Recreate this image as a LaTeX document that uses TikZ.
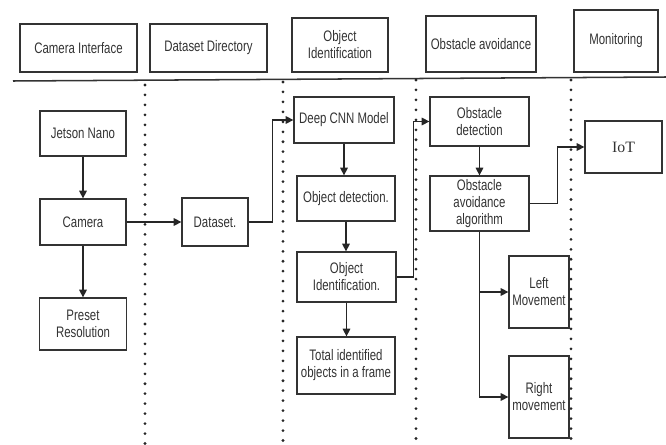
\documentclass[tikz,border=0pt]{standalone}
\usepackage{fontspec}
\setmainfont{Liberation Sans}[FakeStretch=0.75]
\newfontfamily\iotfont{Liberation Serif}
\usetikzlibrary{arrows.meta}

\tikzset{
  blk/.style={draw=black!80, line width=1.1pt, text=black!80, align=center, inner sep=1pt,
    font=\fontsize{13}{14.5}\selectfont},
  link/.style={draw=black!85, line width=1.1pt, -{Triangle[length=6.5pt,width=6.5pt]}},
  lane/.style={black!85, line width=2.6pt, line cap=round, dash pattern=on 0pt off 8.5pt}
}

\begin{document}
\begin{tikzpicture}[x=0.03cm,y=-0.03cm]
  \useasboundingbox (0,0) rectangle (666,445);

  % header row
  \node[blk, minimum width=3.51cm, minimum height=1.44cm] (hcam) at (78.5,48) {Camera Interface};
  \node[blk, minimum width=3.51cm, minimum height=1.44cm] (hdata) at (208.5,48) {Dataset Directory};
  \node[blk, minimum width=2.88cm, minimum height=1.62cm] (hobj) at (340,45) {Object\\Identification};
  \node[blk, minimum width=3.3cm, minimum height=1.68cm] (hobs) at (481,44) {Obstacle avoidance};
  \node[blk, minimum width=2.52cm, minimum height=1.86cm] (hmon) at (616,41) {Monitoring};
  \draw[black!80, line width=1.3pt] (13,81) -- (666,77);

  % lanes
  \foreach \x/\y in {145/85,283/82,416/80,571/80}
    \draw[lane] (\x,\y) -- (\x,445);

  % camera interface
  \node[blk, minimum width=2.58cm, minimum height=1.35cm] (jetson) at (83,133.5) {Jetson Nano};
  \node[blk, minimum width=2.58cm, minimum height=1.38cm] (camera) at (83,222) {Camera};
  \node[blk, minimum width=2.61cm, minimum height=1.56cm] (preset) at (83,324) {Preset\\Resolution};

  % dataset
  \node[blk, minimum width=1.98cm, minimum height=1.44cm] (dataset) at (215,222) {Dataset.};

  % object identification
  \node[blk, minimum width=3cm, minimum height=1.38cm] (cnn) at (344,120) {Deep CNN Model};
  \node[blk, minimum width=2.94cm, minimum height=1.35cm] (objdet) at (346,198.5) {Object detection.};
  \node[blk, minimum width=2.97cm, minimum height=1.5cm] (objid) at (346.5,277) {Object\\Identification.};
  \node[blk, minimum width=2.94cm, minimum height=1.71cm] (total) at (346,365.5) {Total identified\\objects in a frame};

  % obstacle avoidance
  \node[blk, minimum width=2.97cm, minimum height=1.47cm] (obsdet) at (479.5,121.5) {Obstacle\\detection};
  \node[blk, minimum width=2.97cm, minimum height=1.65cm] (obsalg) at (479.5,203.5) {Obstacle\\avoidance\\algorithm};
  \node[blk, minimum width=1.8cm, minimum height=2.16cm] (left) at (539,292) {Left\\Movement};
  \node[blk, minimum width=1.8cm, minimum height=2.46cm] (right) at (539,397) {Right\\movement};

  % monitoring
  \node[blk, minimum width=2.31cm, minimum height=1.56cm, font=\iotfont\fontsize{13.5}{14.5}\selectfont] (iot) at (623.5,147) {IoT};

  % connectors
  \draw[link] (jetson) -- (camera);
  \draw[link] (camera) -- (preset);
  \draw[link] (camera) -- (dataset);
  \draw[link] (dataset.east) -- ++(24,0) |- (cnn.west);
  \draw[link] (cnn) -- (cnn |- objdet.north);
  \draw[link] (objdet) -- (objdet |- objid.north);
  \draw[link] (objid) -- (objid |- total.north);
  \draw[link] (objid.east) -- ++(17,0) |- (obsdet.west);
  \draw[link] (obsdet) -- (obsalg);
  \draw[link] (obsalg.east) -- ++(28,0) |- (iot.west);
  \draw[link] (obsalg.south) |- (left.west);
  \draw[link] (obsalg.south) |- (right.west);
\end{tikzpicture}
\end{document}
